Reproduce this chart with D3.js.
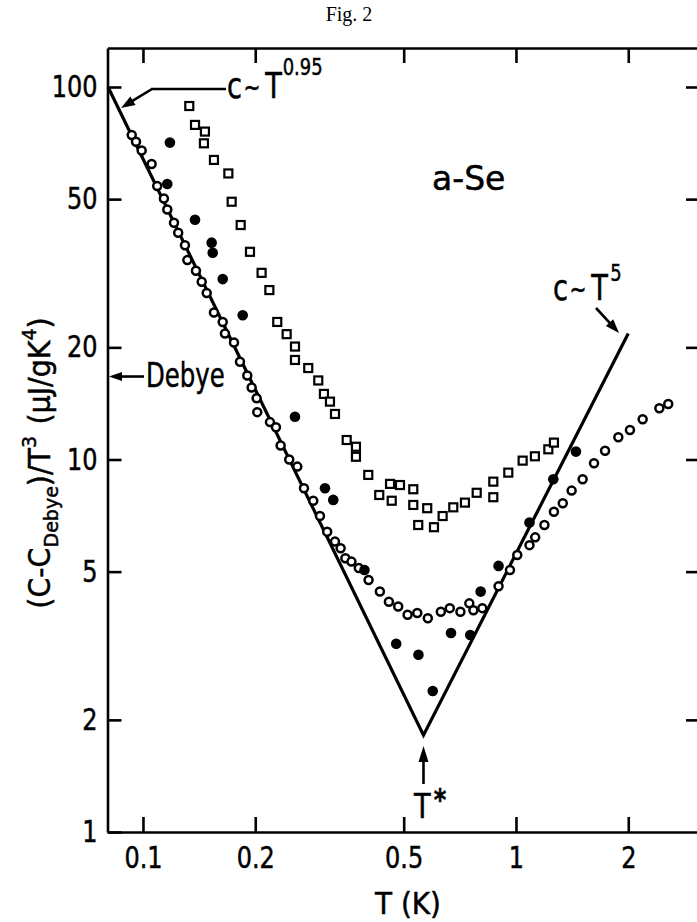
<!DOCTYPE html>
<html><head><meta charset="utf-8">
<script src="https://cdn.jsdelivr.net/npm/d3@7"></script>
<style>
html,body{margin:0;padding:0;background:#fff;}
svg{display:block;}
</style></head>
<body>
<svg id="chart" width="697" height="922"></svg>
<script>
// ---- data ----
const xTicks = [0.1, 0.2, 0.5, 1, 2];
const xTickLabels = ["0.1", "0.2", "0.5", "1", "2"];
const yTicks = [1, 2, 5, 10, 20, 50, 100];
const yTickLabels = ["1", "2", "5", "10", "20", "50", "100"];
const yRightTicks = [2, 5, 10, 20, 50, 100];

const openT = [0.0933,0.0958,0.0992,0.1055,0.1092,0.1138,0.1162,0.1211,0.1243,0.1296,0.1315,0.1387,0.1437,0.1482,0.155,0.1636,0.1659,0.1754,0.182,0.1904,0.1956,0.2017,0.2025,0.219,0.2273,0.2339,0.2467,0.2593,0.2702,0.2861,0.2982,0.3118,0.3272,0.3388,0.3488,0.3622,0.379,0.4026,0.4316,0.4564,0.4833,0.5122,0.5437,0.5803,0.6289,0.6646,0.7097,0.7497,0.7689,0.8124,0.8981,0.9636,1.008,1.087,1.126,1.192,1.264,1.335,1.41,1.509,1.619,1.733,1.881,2.021,2.186,2.423,2.56];
const openV = [74.3,71.3,67.5,62.1,54.2,50.2,46.9,43.2,40.6,37.6,34.3,32.1,30.0,28.0,24.8,23.4,21.8,20.6,18.3,16.8,15.6,14.6,13.4,12.6,12.2,10.9,10.0,9.57,8.37,7.75,7.05,6.40,6.02,5.78,5.43,5.32,5.11,4.75,4.42,4.15,4.03,3.83,3.87,3.75,3.90,3.99,3.90,4.11,3.94,3.99,4.57,5.05,5.54,5.89,6.18,6.67,7.24,7.63,8.25,8.85,9.77,10.56,11.47,12.0,12.82,13.73,14.09];

const filledT = [0.1181,0.1162,0.1379,0.1528,0.1538,0.1636,0.1851,0.2556,0.3076,0.3237,0.3925,0.4774,0.5477,0.5982,0.6696,0.754,0.8042,0.8981,1.087,1.259,1.448];
const filledV = [70.9,54.9,44.0,38.2,35.9,30.5,24.4,13.03,8.37,7.79,5.05,3.20,2.99,2.39,3.42,3.38,4.42,5.18,6.77,8.85,10.5];

const squareT = [0.1331,0.1379,0.1466,0.1457,0.155,0.1694,0.1729,0.1828,0.1936,0.208,0.2182,0.2291,0.2428,0.2556,0.2556,0.2774,0.2951,0.3056,0.3172,0.3272,0.3517,0.3724,0.3724,0.4018,0.43,0.4596,0.4644,0.4887,0.5305,0.5305,0.547,0.5782,0.6028,0.6359,0.6791,0.7298,0.7847,0.8694,0.8694,0.9537,1.042,1.124,1.221,1.264];
const squareV = [88.9,79.1,75.9,70.6,63.7,58.6,49.2,42.6,36.1,31.7,28.5,23.4,21.7,20.1,18.5,17.6,16.3,15.0,14.3,13.25,11.28,10.82,10.17,9.09,8.03,8.60,7.75,8.54,8.32,7.55,6.67,7.40,6.58,7.05,7.44,7.66,8.14,8.72,7.92,9.22,9.93,10.2,10.65,11.1];

// power-law guide lines: c ~ T^0.95 (low T) and c ~ T^5 (high T), meeting at T*
const lineT = [0.0806, 0.565, 2.0];
const lineV = [100, 1.82, 21.8];
const tStar = 0.565;
const debyeLevel = 16.7;

// ---- layout ----
const svg = d3.select("#chart");
const x = d3.scaleLog().domain([0.08034, 3.0951]).range([107.5, 699]);
const y = d3.scaleLog().domain([1, 127.25]).range([832, 48]);
const FONT = '"DejaVu Sans", "Liberation Sans", sans-serif';
const SX = 0.8;
const TXT_STROKE = 0.5;

function styleAxis(g) {
  g.attr("font-family", FONT).attr("font-size", 30);
  g.select(".domain").attr("stroke", "#000").attr("stroke-width", 2.6);
  g.selectAll(".tick line").attr("stroke", "#000").attr("stroke-width", 2.6);
  g.selectAll(".tick text").attr("fill", "#000")
    .attr("stroke", "#000").attr("stroke-width", TXT_STROKE)
    .each(function () {
      const t = d3.select(this);
      const xv = +t.attr("x") || 0;
      t.attr("x", xv / SX).attr("transform", `scale(${SX},1)`);
    });
}

// frame / axes
svg.append("g").attr("transform", "translate(0,48)")
  .call(d3.axisTop(x).tickValues(xTicks).tickSize(-15).tickSizeOuter(0).tickFormat(""))
  .call(styleAxis);
svg.append("g").attr("transform", "translate(699,0)")
  .call(d3.axisRight(y).tickValues(yRightTicks).tickSize(-13).tickSizeOuter(0).tickFormat(""))
  .call(styleAxis);
svg.append("g").attr("transform", "translate(0,832)")
  .call(d3.axisBottom(x).tickValues(xTicks).tickSize(-15).tickSizeOuter(0).tickPadding(15)
    .tickFormat((d, i) => xTickLabels[i]))
  .call(styleAxis);
svg.append("g").attr("transform", "translate(107.5,0)")
  .call(d3.axisLeft(y).tickValues(yTicks).tickSize(-14).tickSizeOuter(0).tickPadding(10)
    .tickFormat((d, i) => yTickLabels[i]))
  .call(styleAxis);

// guide lines
const lineData = lineT.map((t, i) => ({ t, v: lineV[i] }));
svg.append("path").datum(lineData)
  .attr("d", d3.line().x(d => x(d.t)).y(d => y(d.v)))
  .attr("fill", "none").attr("stroke", "#000").attr("stroke-width", 3.2)
  .attr("stroke-linejoin", "miter");

// squares
const sq = squareT.map((t, i) => ({ t, v: squareV[i] }));
svg.append("g").selectAll("rect").data(sq).join("rect")
  .attr("x", d => x(d.t) - 4).attr("y", d => y(d.v) - 4)
  .attr("width", 8).attr("height", 8)
  .attr("fill", "#fff").attr("stroke", "#000").attr("stroke-width", 2.2);

// open circles
const op = openT.map((t, i) => ({ t, v: openV[i] }));
svg.append("g").selectAll("circle").data(op).join("circle")
  .attr("cx", d => x(d.t)).attr("cy", d => y(d.v)).attr("r", 4)
  .attr("fill", "#fff").attr("stroke", "#000").attr("stroke-width", 2.5);

// filled circles
const fl = filledT.map((t, i) => ({ t, v: filledV[i] }));
svg.append("g").selectAll("circle").data(fl).join("circle")
  .attr("cx", d => x(d.t)).attr("cy", d => y(d.v)).attr("r", 5.3)
  .attr("fill", "#000");

// ---- annotations ----
function arrow(x1, y1, x2, y2, len, wid) {
  const dx = x2 - x1, dy = y2 - y1, L = Math.hypot(dx, dy), ux = dx / L, uy = dy / L;
  const bx = x2 - ux * len, by = y2 - uy * len;
  svg.append("line").attr("x1", x1).attr("y1", y1).attr("x2", bx + ux * 2).attr("y2", by + uy * 2)
    .attr("stroke", "#000").attr("stroke-width", 2.6);
  svg.append("path")
    .attr("d", `M${x2},${y2}L${bx - uy * wid / 2},${by + ux * wid / 2}L${bx + uy * wid / 2},${by - ux * wid / 2}Z`)
    .attr("fill", "#000");
}
function label(px, py, sx, anchor) {
  return svg.append("text").attr("transform", `translate(${px},${py}) scale(${sx},1)`)
    .attr("text-anchor", anchor || "start").attr("font-family", FONT).attr("fill", "#000")
    .attr("stroke", "#000").attr("stroke-width", TXT_STROKE);
}

// c ~ T^0.95
svg.append("line").attr("x1", 226).attr("y1", 89).attr("x2", 151).attr("y2", 89)
  .attr("stroke", "#000").attr("stroke-width", 2.6);
arrow(152, 89, 121, 108, 14, 10);
const l1 = label(227, 98, 0.78).attr("font-size", 35);
l1.append("tspan").text("c");
l1.append("tspan").attr("font-size", 26).attr("dx", 2).attr("dy", -2).text("~");
l1.append("tspan").attr("dx", 6).attr("dy", 2).text("T");
l1.append("tspan").attr("font-size", 23).attr("dx", 1).attr("dy", -23).text("0.95");

// c ~ T^5
arrow(596, 308, 619, 333, 14, 10);
const l2 = label(553, 300, 0.78).attr("font-size", 35);
l2.append("tspan").text("c");
l2.append("tspan").attr("font-size", 26).attr("dx", 2).attr("dy", -2).text("~");
l2.append("tspan").attr("dx", 6).attr("dy", 2).text("T");
l2.append("tspan").attr("font-size", 23).attr("dx", 3).attr("dy", -19).text("5");

// Debye
arrow(144, y(debyeLevel), 109, y(debyeLevel), 13, 9);
label(146, 387, 0.74).attr("font-size", 33).text("Debye");

// a-Se
label(432, 190, 1.0).attr("font-size", 33).text("a-Se");

// T*
arrow(x(tStar), 784, x(tStar), 746, 16, 10);
const ts = label(414, 818, 0.8).attr("font-size", 34);
ts.append("tspan").text("T");
ts.append("tspan").attr("font-size", 30).attr("font-weight", "bold").attr("dx", 4).attr("dy", -8).text("*");

// axis titles
label(408, 914, 0.9, "middle").attr("font-size", 31).text("T (K)");

const yl = svg.append("text")
  .attr("transform", "translate(50,463) rotate(-90) scale(0.95,1)")
  .attr("text-anchor", "middle").attr("font-family", FONT).attr("font-size", 30).attr("fill", "#000")
  .attr("stroke", "#000").attr("stroke-width", TXT_STROKE);
yl.append("tspan").text("(C-C");
yl.append("tspan").attr("font-size", 20).attr("dy", 8).text("Debye");
yl.append("tspan").attr("dy", -8).text(")/T");
yl.append("tspan").attr("font-size", 20).attr("dy", -14).text("3");
yl.append("tspan").attr("dy", 14).attr("dx", 12).text("(\u03bcJ/gK");
yl.append("tspan").attr("font-size", 20).attr("dy", -14).text("4");
yl.append("tspan").attr("dy", 14).text(")");

// figure caption
svg.append("text").attr("x", 349).attr("y", 21).attr("text-anchor", "middle")
  .attr("font-family", '"Liberation Serif", "DejaVu Serif", serif').attr("font-size", 20)
  .attr("fill", "#000").text("Fig. 2");
</script>
</body></html>
